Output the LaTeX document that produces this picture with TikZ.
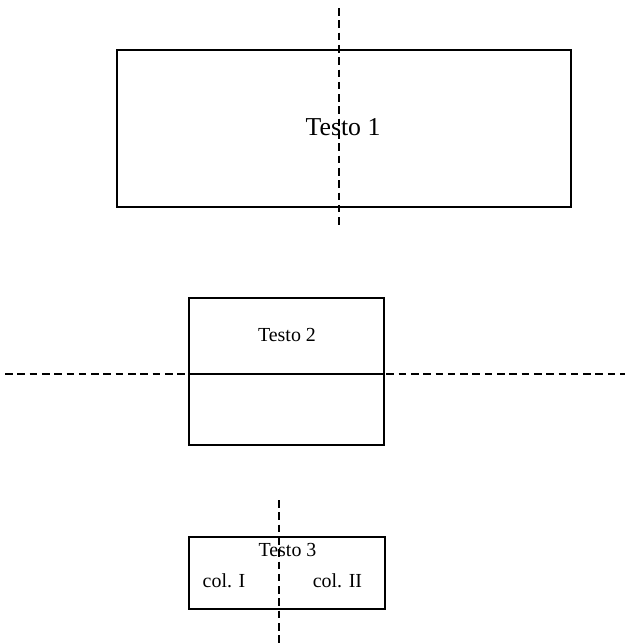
\documentclass[tikz,border=0pt]{standalone}
\usepackage{fontspec}
\setmainfont{Liberation Serif}
\usetikzlibrary{positioning}

\tikzset{
    caja/.style={draw, line width=1.6pt, inner sep=0pt},
    corte/.style={line width=1.3pt, dash pattern=on 6.5pt off 4pt},
    texto/.style={font=\fontsize{17}{20}\selectfont, inner sep=0pt}
}

\begin{document}
\begin{tikzpicture}[x=0.03cm, y=-0.03cm]
    \useasboundingbox (0,0) rectangle (625,643);

    % caja 1, corte vertical
    \node[caja, minimum width=454*0.03cm, minimum height=157*0.03cm] (caja1) at (344,128.5) {};
    \node[texto, font=\fontsize{22}{26}\selectfont] (testo1) at (343,127) {Testo 1};
    \coordinate (c1a) at (339,8);
    \coordinate (c1b) at (339,225);
    \draw[corte] (c1a) -- (c1b);

    % caja 2, corte horizontal
    \node[caja, minimum width=195*0.03cm, minimum height=147*0.03cm] (caja2) at (286.5,371.5) {};
    \node[texto] (testo2) at (287,335) {Testo 2};
    \coordinate (c2a) at (5,374);
    \coordinate (c2b) at (625,374);
    \draw[line width=1.6pt] (caja2.west |- c2a) -- (caja2.east |- c2a);
    \draw[corte] (c2a) -- (c2b);

    % caja 3, dos columnas
    \node[caja, minimum width=196*0.03cm, minimum height=72*0.03cm] (caja3) at (287,573) {};
    \node[texto] (testo3) at (287.5,550) {Testo 3};
    \node[texto] (col1) at (224,581) {col. I};
    \node[texto] (col2) at (337.5,581) {col. II};
    \coordinate (c3a) at (279,500);
    \coordinate (c3b) at (279,643);
    \draw[corte] (c3a) -- (c3b);

\end{tikzpicture}
\end{document}
